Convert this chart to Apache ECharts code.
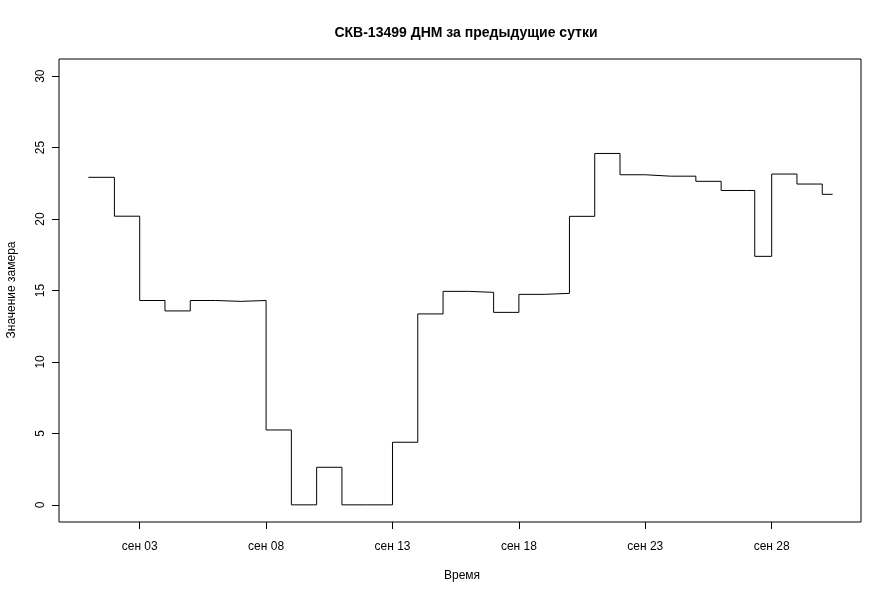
<!DOCTYPE html>
<html>
<head>
<meta charset="utf-8">
<script src="https://cdn.jsdelivr.net/npm/echarts@6/dist/echarts.min.js"></script>
<style>
  html, body { margin: 0; padding: 0; background: #fff; }
  #chart { width: 892px; height: 596px; }
</style>
</head>
<body>
<div id="chart"></div>
<script>
// Time in days of September (step starts), and the value held from that moment
const stepDays = [0.97, 2, 3, 4, 5, 6, 7, 8, 9, 10, 11, 12, 13, 14, 15, 16, 17, 18, 19, 20,
                  21, 22, 23, 24, 25, 26, 27, 27.33, 28, 29, 30, 30.41];
const stepValues = [22.92, 20.2, 14.3, 13.57, 14.3, 14.24, 14.3, 5.24, 0, 2.63, 0, 0, 4.38, 13.36,
                    14.94, 14.87, 13.47, 14.73, 14.8, 20.19, 24.59, 23.1, 23.0, 23.0, 22.64, 22.0,
                    22.0, 17.39, 23.15, 22.45, 21.73, 21.73];
const xTickDays = [3, 8, 13, 18, 23, 28];
const xTickLabels = ['сен 03', 'сен 08', 'сен 13', 'сен 18', 'сен 23', 'сен 28'];
const yTicks = [0, 5, 10, 15, 20, 25, 30];

const titleText = 'СКВ-13499 ДНМ за предыдущие сутки';
const xTitle = 'Время';
const yTitle = 'Значение замера';

const seriesData = stepDays.map((d, i) => [d, stepValues[i]]);
const FONT = 'Liberation Sans, Arial, sans-serif';

const chart = echarts.init(document.getElementById('chart'), null, { renderer: 'canvas' });
chart.setOption({
  animation: false,
  backgroundColor: '#ffffff',
  title: {
    text: titleText,
    left: 461, top: 21, textAlign: 'center',
    textStyle: { fontFamily: FONT, fontSize: 14, fontWeight: 'bold', color: '#000' }
  },
  grid: {
    left: 59, right: 31, top: 59, bottom: 74,
    show: true, borderColor: '#000', borderWidth: 1, backgroundColor: 'transparent',
    containLabel: false, outerBoundsMode: 'none'
  },
  xAxis: {
    type: 'value',
    min: -0.192, max: 31.533,
    axisLine: { show: false, onZero: false },
    axisTick: { show: true, length: 7, inside: false, customValues: xTickDays, lineStyle: { color: '#000' } },
    axisLabel: {
      customValues: xTickDays, margin: 19,
      fontFamily: FONT, fontSize: 12, color: '#000',
      formatter: v => { const i = xTickDays.indexOf(Math.round(v)); return i >= 0 ? xTickLabels[i] : ''; }
    },
    splitLine: { show: false }
  },
  yAxis: {
    type: 'value',
    min: -1.2, max: 31.2,
    axisLine: { show: false, onZero: false },
    axisTick: { show: true, length: 7, inside: false, customValues: yTicks, lineStyle: { color: '#000' } },
    axisLabel: {
      customValues: yTicks, rotate: 90, margin: 12,
      fontFamily: FONT, fontSize: 12, color: '#000'
    },
    splitLine: { show: false }
  },
  graphic: [
    { type: 'text', x: 462, y: 576, style: { text: xTitle, fontFamily: FONT, fontSize: 12, fill: '#000', textAlign: 'center', textVerticalAlign: 'middle' } },
    { type: 'text', x: 12, y: 290, rotation: Math.PI / 2, style: { text: yTitle, fontFamily: FONT, fontSize: 12, fill: '#000', textAlign: 'center', textVerticalAlign: 'middle' } }
  ],
  series: [{
    type: 'line',
    data: seriesData,
    step: 'end',
    showSymbol: false,
    lineStyle: { color: '#000', width: 1 },
    silent: true
  }]
});
</script>
</body>
</html>
